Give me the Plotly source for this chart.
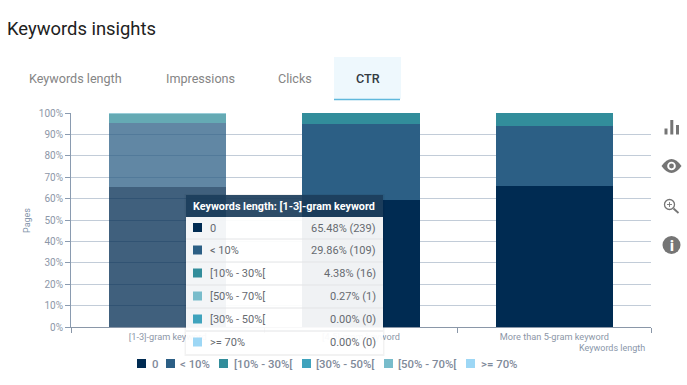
import plotly.graph_objects as go

categories = ["[1-3]-gram keyword", "[4-5]-gram keyword", "More than 5-gram keyword"]
series_names = ["0", "< 10%", "[10% - 30%[", "[30% - 50%[", "[50% - 70%[", ">= 70%"]
series_colors = ["#002b52", "#2c5f85", "#328d9b", "#3fa3bd", "#78bccb", "#9dd7f5"]
v_0 = [65.48, 59.3, 65.9]
v_lt10 = [29.86, 35.6, 28.0]
v_10_30 = [4.38, 5.1, 6.1]
v_30_50 = [0, 0, 0]
v_50_70 = [0.27, 0, 0]
v_ge70 = [0, 0, 0]
series_values = [v_0, v_lt10, v_10_30, v_30_50, v_50_70, v_ge70]
bar_opacity = [0.75, 1, 1]
y_ticks = list(range(0, 101, 10))
y_labels = [f"{t}%" for t in y_ticks]
tabs = ["Keywords length", "Impressions", "Clicks", "CTR"]
tip_title = "Keywords length: [1-3]-gram keyword"
tip_names = ["0", "< 10%", "[10% - 30%[", "[50% - 70%[", "[30% - 50%[", ">= 70%"]
tip_values = ["65.48% (239)", "29.86% (109)", "4.38% (16)", "0.27% (1)", "0.00% (0)", "0.00% (0)"]

W, H = 687, 385
L, R, T, B = 71, 36, 113, 58
PW, PH = W - L - R, H - T - B
FONT = "Roboto, sans-serif"


def fx(x):
    return (x - L) / PW


def fy(y):
    return (H - B - y) / PH


shapes, notes = [], []


def rect(x0, y0, x1, y1, fill, line=None):
    shapes.append(dict(type="rect", xref="paper", yref="paper", x0=fx(x0), x1=fx(x1), y0=fy(y1), y1=fy(y0),
                       fillcolor=fill, line=dict(width=1 if line else 0, color=line or fill), layer="above"))


def seg(x0, y0, x1, y1, color, width=1):
    shapes.append(dict(type="line", xref="paper", yref="paper", x0=fx(x0), x1=fx(x1), y0=fy(y0), y1=fy(y1),
                       line=dict(color=color, width=width), layer="above"))


def circ(cx, cy, r, fill, line=None, lw=0):
    shapes.append(dict(type="circle", xref="paper", yref="paper", x0=fx(cx - r), x1=fx(cx + r), y0=fy(cy + r),
                       y1=fy(cy - r), fillcolor=fill, line=dict(width=lw, color=line or fill), layer="above"))


def path(points, fill):
    d = ""
    for p in points:
        if isinstance(p, str):
            d += p + " "
        else:
            d += f"{fx(p[0]):.5f},{fy(p[1]):.5f} "
    shapes.append(dict(type="path", xref="paper", yref="paper", path=d, fillcolor=fill, line=dict(width=0), layer="above"))


def text(x, y, s, size=12, color="#666", anchor="left", weight=None, angle=0):
    f = dict(family=FONT, size=size, color=color)
    if weight:
        f["weight"] = weight
    notes.append(dict(xref="paper", yref="paper", x=fx(x), y=fy(y), text=s, showarrow=False, xanchor=anchor,
                      yanchor="middle", font=f, textangle=angle, borderpad=0, borderwidth=0))


# page heading and tabs
text(7, 29, "Keywords insights", 18.4, "#212121")
rect(334, 57, 401, 99, "#eef8fd")
seg(334, 99.5, 400, 99.5, "#5fb8dc", 1.3)
for name, cx in zip(tabs, [75.5, 200, 295, 367.5]):
    text(cx, 78, name, 12.6, "#333b42" if name == "CTR" else "#858585", "center", 500 if name == "CTR" else None)

# axis titles
text(27, 221, "Pages", 9, "#8595ab", "center", angle=-90)
text(645, 348, "Keywords length", 9, "#8a97aa", "right")

# legend
lx = [(137, 152), (166, 180), (219, 234), (302, 316), (384, 398), (466, 481)]
for (sx, tx), name, col in zip(lx, series_names, series_colors):
    rect(sx, 359, sx + 9, 368, col)
    text(tx, 364, name, 11.4, "#7f8a9a", weight=500)

# tooltip
rect(184.5, 194, 384.5, 356, "rgba(0,0,0,0.05)")
rect(186, 195, 383, 217, "rgba(28,62,92,0.92)")
rect(186, 217, 383, 354, "rgba(255,255,255,0.94)")
text(192.5, 206, tip_title, 10.8, "#ffffff", weight=700)
row_y = [217, 239, 262, 285, 308, 331, 354]
for i, (name, val) in enumerate(zip(tip_names, tip_values)):
    cy = (row_y[i] + row_y[i + 1]) / 2
    rect(193, cy - 5, 202, cy + 4, series_colors[series_names.index(name)])
    text(210, cy, name, 11, "#666a70")
    text(375.5, cy, val, 11, "#666a70", "right")
    if i < 5:
        seg(186, row_y[i + 1], 383, row_y[i + 1], "#e3e4e6", 1)

# toolbar icons
ICON = "#757575"
rect(664.5, 128.5, 667.5, 134.5, ICON)
rect(670.3, 120, 673.3, 134.5, ICON)
rect(676, 125, 679, 134.5, ICON)
path(["M", (661.5, 166), "Q", (671.5, 152), (681.5, 166), "Q", (671.5, 180), (661.5, 166), "Z"], ICON)
circ(671.5, 166, 4.3, "#ffffff")
circ(671.5, 166, 2.4, ICON)
circ(669.5, 204.5, 5, "#ffffff", ICON, 1.3)
seg(673.5, 208.5, 678.5, 213, ICON, 1.8)
seg(667, 204.5, 672, 204.5, ICON, 0.9)
seg(669.5, 202, 669.5, 207, ICON, 0.9)
circ(671.5, 245, 9, ICON)
text(671.5, 245.5, "i", 14, "#ffffff", "center", 900)

fig = go.Figure()
for name, col, vals in zip(series_names, series_colors, series_values):
    fig.add_trace(go.Bar(name=name, x=categories, y=vals, marker=dict(color=col, opacity=bar_opacity, line=dict(width=0))))

fig.update_layout(
    width=W, height=H, autosize=False, barmode="stack", bargap=0.394, showlegend=False,
    margin=dict(l=L, r=R, t=T, b=B, pad=0), plot_bgcolor="#ffffff", paper_bgcolor="#ffffff",
    font=dict(family=FONT), shapes=shapes, annotations=notes,
    xaxis=dict(showline=True, linecolor="#8a97a8", linewidth=1, ticks="outside", tickson="boundaries", ticklen=5,
               tickcolor="#8a97a8", tickfont=dict(size=9.2, color="#8d97a8"), showgrid=False, ticklabelstandoff=1),
    yaxis=dict(range=[0, 100], tickmode="array", tickvals=y_ticks, ticktext=y_labels, showline=True,
               linecolor="#8a9bb0", linewidth=1, ticks="outside", ticklen=5, tickcolor="#8a9bb0",
               tickfont=dict(size=10, color="#8d97a8"), gridcolor="#c2ccd8", gridwidth=1, zeroline=False),
)
fig.write_html("out.html", config=dict(displayModeBar=False), post_script="document.body.style.margin='0';")
